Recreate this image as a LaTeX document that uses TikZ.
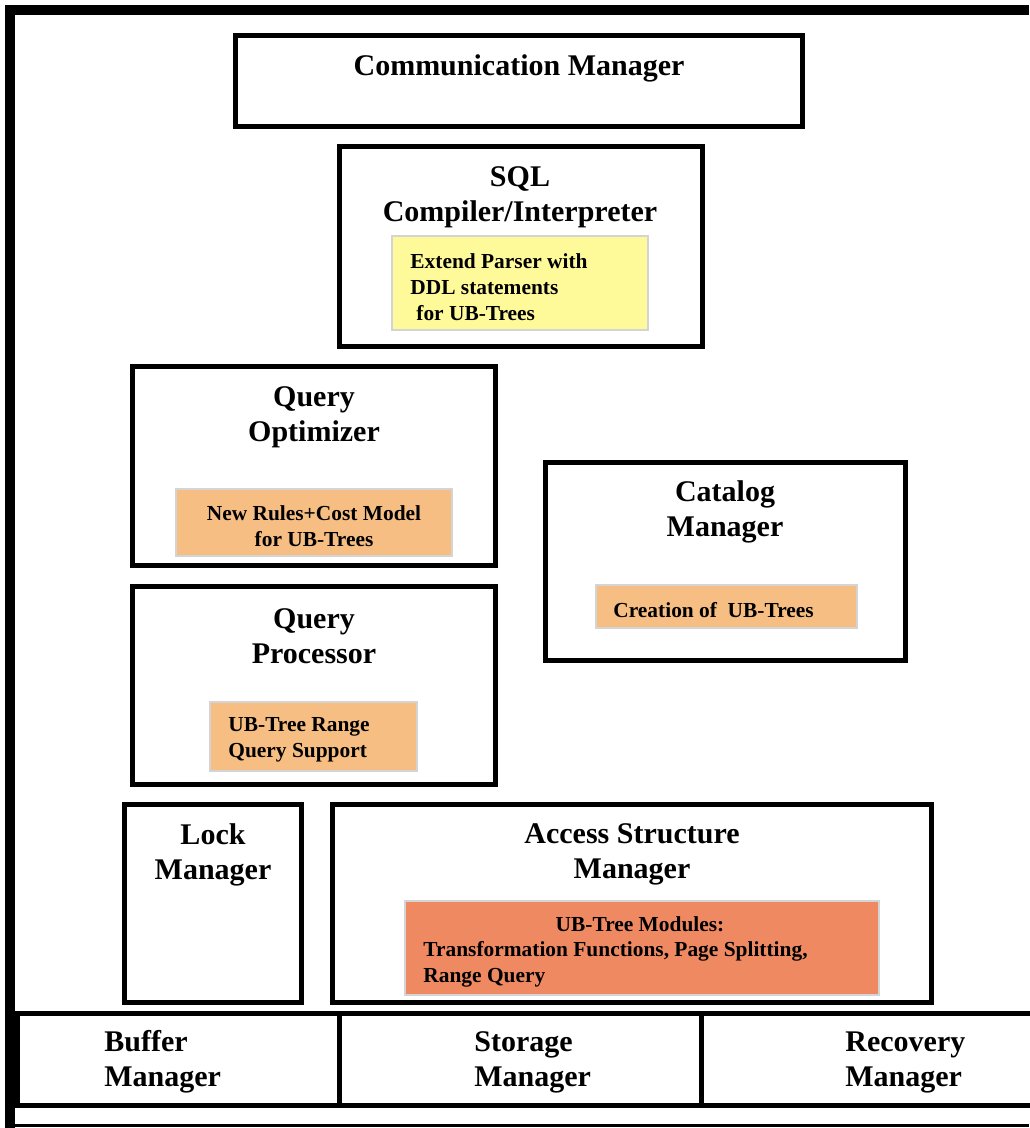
\documentclass[tikz,border=0pt]{standalone}
\usepackage{fontspec}
\setmainfont{Liberation Serif}
\definecolor{parseryellow}{RGB}{255,250,153}
\definecolor{ruleorange}{RGB}{246,190,130}
\definecolor{modsalmon}{RGB}{239,137,98}
\definecolor{notegray}{RGB}{212,212,212}
\begin{document}
\begin{tikzpicture}[x=0.5pt, y=-0.5pt,
		mgr/.style={draw, line width=2.5pt},
		title/.style={inner sep=0pt, align=center, font=\bfseries\fontsize{15}{17.5}\selectfont},
		note/.style={draw=notegray, line width=0.6pt},
		notetext/.style={inner sep=0pt, font=\bfseries\fontsize{10.7}{13}\selectfont}]
		\useasboundingbox (0, 0) rectangle (1029, 1128);
		% outer frame
		\draw[line width=5pt] (10, 1128) -- (10, 10) -- (1029, 10);
		\draw[line width=1.5pt] (15, 1125.5) -- (1029, 1125.5);

		\draw[mgr] (235.5, 36) rectangle (802, 127);
		\node[title] (comm) at (519, 68) {Communication Manager};

		\draw[mgr] (339, 147) rectangle (702, 346);
		\node[title] (sql) at (520, 197.5) {SQL\\Compiler/Interpreter};
		\draw[note, fill=parseryellow] (392, 236) rectangle (648, 330);
		\node[notetext, anchor=west, align=left] (parser) at (410, 287)
			{Extend Parser with\\DDL statements\\\hspace{3pt}for UB-Trees};

		\draw[mgr] (132, 366) rectangle (495, 565);
		\node[title] (opt) at (314, 417) {Query\\Optimizer};
		\draw[note, fill=ruleorange] (176, 489) rectangle (452, 556);
		\node[notetext, align=center] (cost) at (314, 526) {New Rules+Cost Model\\for UB-Trees};

		\draw[mgr] (132, 586) rectangle (495, 784);
		\node[title] (proc) at (314, 636) {Query\\Processor};
		\draw[note, fill=ruleorange] (210, 702) rectangle (417, 771);
		\node[notetext, anchor=west, align=left] (range) at (228, 740) {UB-Tree Range\\Query Support};

		\draw[mgr] (545, 462) rectangle (905, 660);
		\node[title] (cat) at (725, 512) {Catalog\\Manager};
		\draw[note, fill=ruleorange] (596, 585) rectangle (857, 628);
		\node[notetext, anchor=west] (create) at (613, 610) {Creation of\ \ UB-Trees};

		\draw[mgr] (124, 804) rectangle (301, 1002);
		\node[title] (lock) at (213, 854.5) {Lock\\Manager};

		\draw[mgr] (332, 804) rectangle (931, 1002);
		\node[title] (access) at (632, 854.5) {Access Structure\\Manager};
		\draw[note, fill=modsalmon] (405, 901) rectangle (879, 995);
		\node[notetext] (modules) at (640, 924) {UB-Tree Modules:};
		\node[notetext, anchor=west, align=left] (funcs) at (423, 964)
			{Transformation Functions, Page Splitting,\\Range Query};

		% bottom row
		\draw[mgr] (17, 1013.5) rectangle (339.5, 1105.5);
		\draw[mgr] (339.5, 1013.5) rectangle (701.5, 1105.5);
		\draw[mgr] (701.5, 1013.5) rectangle (1045, 1105.5);
		\node[title, anchor=west, align=left] (buffer) at (104, 1062) {Buffer\\Manager};
		\node[title, anchor=west, align=left] (storage) at (474, 1062) {Storage\\Manager};
		\node[title, anchor=west, align=left] (recovery) at (845, 1062) {Recovery\\Manager};
	\end{tikzpicture}
\end{document}
